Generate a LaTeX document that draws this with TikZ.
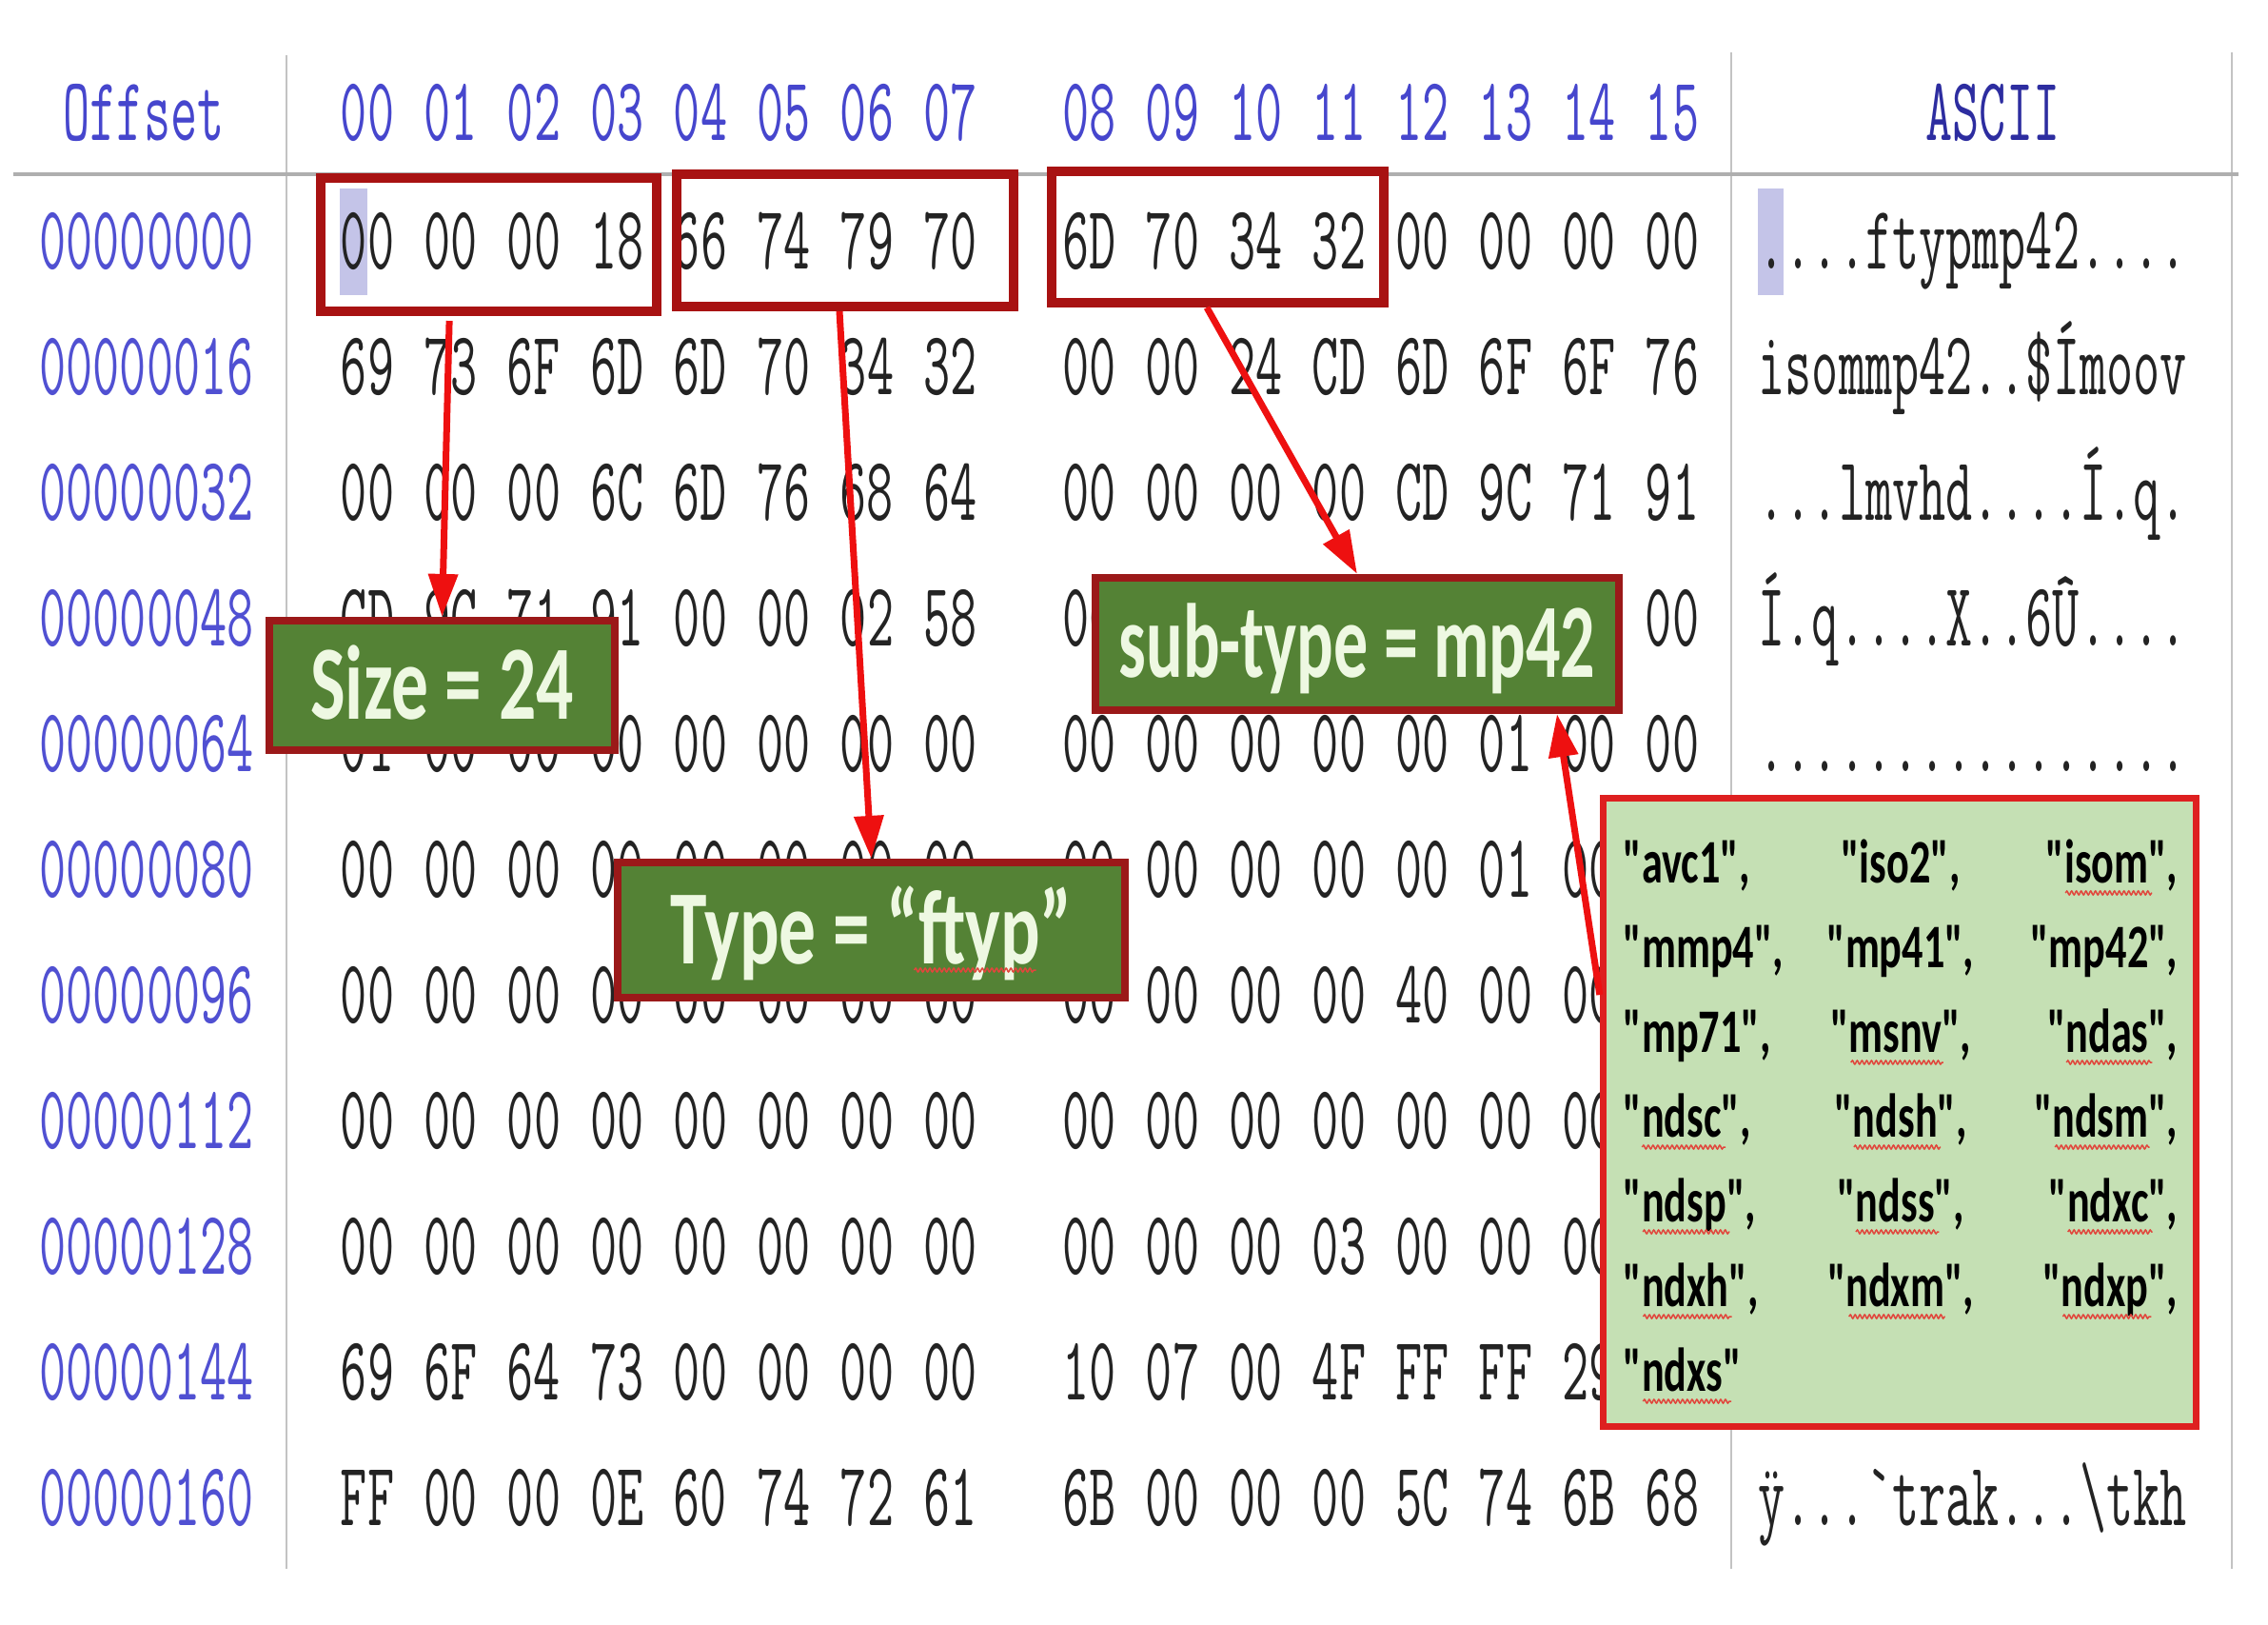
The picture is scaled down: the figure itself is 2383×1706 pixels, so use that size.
\documentclass[tikz,border=0pt]{standalone}
\usepackage{fontspec}
\usetikzlibrary{calc,arrows.meta,decorations.pathmorphing}
\newfontfamily\labfont{Carlito}
\definecolor{hexblue}{RGB}{70,70,205}
\definecolor{offblue}{RGB}{80,80,210}
\definecolor{hdrblue}{RGB}{45,45,160}
\definecolor{hexgray}{RGB}{35,35,35}
\definecolor{gridgray}{RGB}{195,195,195}
\definecolor{linegray}{RGB}{175,175,175}
\definecolor{boxred}{RGB}{168,18,18}
\definecolor{arrred}{RGB}{238,16,16}
\definecolor{labborder}{RGB}{155,25,25}
\definecolor{labgreen}{RGB}{84,130,53}
\definecolor{labtext}{RGB}{238,248,226}
\definecolor{listgreen}{RGB}{197,224,180}
\definecolor{listred}{RGB}{222,32,32}
\definecolor{hilite}{RGB}{196,196,232}
\definecolor{wavered}{RGB}{225,70,60}
\newcommand\hx[1]{\scalebox{0.575}[1]{\fontsize{27}{30}\selectfont\ttfamily #1}}
\newcommand\lbtxt[2][0.70]{\scalebox{#1}[1]{\fontsize{31.5}{34}\selectfont\labfont\bfseries #2}}
\newcommand\litxt[1]{\scalebox{0.68}[1]{\fontsize{18.5}{20}\selectfont\labfont\bfseries #1}}
\newcommand\wv[3]{\draw[wavy] ($(#1.base west)!#2!(#1.base east)+(0,11)$) -- ($(#1.base west)!#3!(#1.base east)+(0,11)$);}
\tikzset{
  hexb/.style={anchor=base, inner sep=0pt, text=hexgray},
  offs/.style={anchor=base, inner sep=0pt, text=offblue},
  hdr/.style={anchor=base, inner sep=0pt, text=hexblue},
  asc/.style={anchor=base west, inner sep=0pt, text=hexgray},
  gridln/.style={draw=gridgray, line width=0.02cm},
  redbox/.style={draw=boxred, line width=0.1cm, inner sep=0pt},
  lab/.style={draw=labborder, fill=labgreen, line width=0.08cm, inner sep=0pt, text=labtext, text height=0.7cm, text depth=0cm},
  listbox/.style={draw=listred, fill=listgreen, line width=0.07cm, inner sep=0pt},
  lstitem/.style={inner sep=0pt, text=black},
  arr/.style={draw=arrred, line width=0.07cm, -{Triangle[length=0.45cm,width=0.3cm]}},
  wavy/.style={draw=wavered, line width=0.015cm, decorate, decoration={snake, amplitude=0.02cm, segment length=0.05cm}},
}
\begin{document}
\begin{tikzpicture}[x=0.01cm,y=-0.01cm]
\fill[white] (0,0) rectangle (2383,1706);
\useasboundingbox (0,0) rectangle (2383,1706);
% grid lines
\draw[gridln] (301,58) -- (301,1648);
\draw[gridln] (1819,55) -- (1819,1648);
\draw[gridln] (2345,55) -- (2345,1648);
\draw[draw=linegray, line width=0.035cm] (14,183) -- (2352,183);
% cursor highlights
\fill[hilite] (357,198) rectangle (386,310);
\fill[hilite] (1847,198) rectangle (1874,310);
% header
\node[hdr] (hoff) at (151,148) {\hx{Offset}};
\foreach \h [count=\c from 0] in {00,01,02,03,04,05,06,07,08,09,10,11,12,13,14,15}{
  \node[hdr] (hc-\c) at ({386+\c*87.5+(\c>7)*58.5},148) {\hx{\h}};
}
\node[hdr, text=hdrblue] (hasc) at (2094,148) {\hx{ASCII}};
% rows
\foreach \r/\o/\bytes in {
 0/00000000/{00,00,00,18,66,74,79,70,6D,70,34,32,00,00,00,00},
 1/00000016/{69,73,6F,6D,6D,70,34,32,00,00,24,CD,6D,6F,6F,76},
 2/00000032/{00,00,00,6C,6D,76,68,64,00,00,00,00,CD,9C,71,91},
 3/00000048/{CD,9C,71,91,00,00,02,58,00,00,36,DB,00,01,00,00},
 4/00000064/{01,00,00,00,00,00,00,00,00,00,00,00,00,01,00,00},
 5/00000080/{00,00,00,00,00,00,00,00,00,00,00,00,00,01,00,00},
 6/00000096/{00,00,00,00,00,00,00,00,00,00,00,00,40,00,00,00},
 7/00000112/{00,00,00,00,00,00,00,00,00,00,00,00,00,00,00,00},
 8/00000128/{00,00,00,00,00,00,00,00,00,00,00,03,00,00,00,15},
 9/00000144/{69,6F,64,73,00,00,00,00,10,07,00,4F,FF,FF,29,15},
 10/00000160/{FF,00,00,0E,60,74,72,61,6B,00,00,00,5C,74,6B,68}}{
  \node[offs] (off-\r) at (154,{282+\r*132}) {\hx{\o}};
  \foreach \b [count=\c from 0] in \bytes {
    \node[hexb] (h-\r-\c) at ({386+\c*87.5+(\c>7)*58.5},{282+\r*132}) {\hx{\b}};
  }
}
% ascii column
\node[asc] (a-0) at (1847,282) {\hx{....ftypmp42....}};
\node[asc] (a-1) at (1847,414) {\hx{isommp42..\$Ímoov}};
\node[asc] (a-2) at (1847,546) {\hx{...lmvhd....Í.q.}};
\node[asc] (a-3) at (1847,678) {\hx{Í.q....X..6Û....}};
\node[asc] (a-4) at (1847,810) {\hx{................}};
\node[asc] (a-10) at (1847,1602) {\hx{ÿ...\char"60 trak...\textbackslash tkh}};
% red selection boxes
\node[redbox, minimum width=3.53cm, minimum height=1.40cm] (box1) at (513.5,257) {};
\node[redbox, minimum width=3.54cm, minimum height=1.39cm] (box2) at (888,252.5) {};
\node[redbox, minimum width=3.49cm, minimum height=1.38cm] (box3) at (1279.5,249) {};
% green labels
\node[lab, minimum width=3.63cm, minimum height=1.36cm] (size) at (464.5,720) {\lbtxt{Size = 24}};
\node[lab, minimum width=5.33cm, minimum height=1.42cm] (typelab) at (915.5,977) {\lbtxt{Type = “ftyp”}};
\node[lab, minimum width=5.50cm, minimum height=1.39cm] (subtype) at (1426,676.5) {\lbtxt[0.65]{sub-type = mp42}};
\draw[wavy] ($(typelab.center)+(45,42)$) -- ($(typelab.center)+(173,42)$);
% list box
\node[listbox, minimum width=6.23cm, minimum height=6.60cm] (list) at (1996,1168.5) {};
\foreach \r/\a/\b/\c in {1/avc1/iso2/isom, 2/mmp4/mp41/mp42, 3/mp71/msnv/ndas, 4/ndsc/ndsh/ndsm, 5/ndsp/ndss/ndxc, 6/ndxh/ndxm/ndxp}{
  \node[lstitem, anchor=base west] (l-\r-1) at (1705,{927+(\r-1)*89}) {\litxt{"\a",}};
  \node[lstitem, anchor=base] (l-\r-2) at (1997,{927+(\r-1)*89}) {\litxt{"\b",}};
  \node[lstitem, anchor=base east] (l-\r-3) at (2289,{927+(\r-1)*89}) {\litxt{"\c",}};
}
\node[lstitem, anchor=base west] (l-7-1) at (1705,1461) {\litxt{"ndxs"}};
\foreach \n in {l-1-3,l-3-2,l-3-3,l-4-1,l-4-2,l-4-3,l-5-1,l-5-2,l-5-3,l-6-1,l-6-2,l-6-3}{
  \wv{\n}{0.15}{0.80}
}
\wv{l-7-1}{0.17}{0.91}
% arrows
\draw[arr] ($(box1.south west)!0.386!(box1.south east)+(0,5)$) -- (size.north);
\draw[arr] ($(box2.south)+(-6,0)$) -- (typelab.north);
\draw[arr] ($(box3.south west)!0.468!(box3.south east)$) -- (subtype.north);
\draw[arr] ($(list.north west)!0.315!(list.south west)$) -- ($(subtype.south west)!0.876!(subtype.south east)$);
\end{tikzpicture}
\end{document}
